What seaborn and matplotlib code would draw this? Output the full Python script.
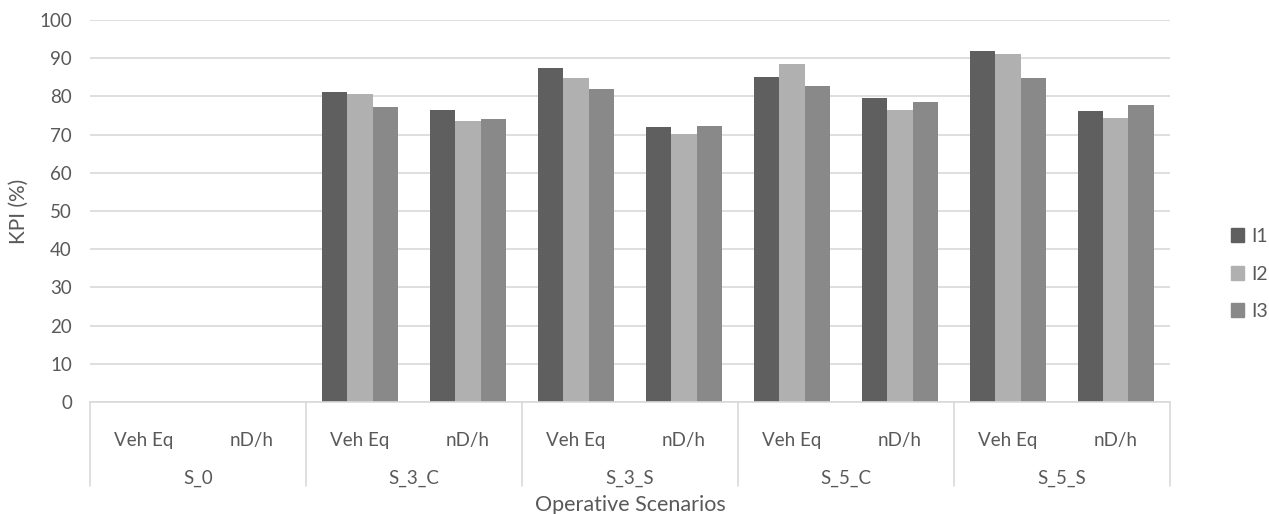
import pandas as pd
import numpy as np
import matplotlib.pyplot as plt
import seaborn as sns

# ── DATA ─────────────────────────────────────
scenarios = ['S_0', 'S_3_C', 'S_3_S', 'S_5_C', 'S_5_S']
metrics = ['Veh Eq', 'nD/h']
indicators = ['I1', 'I2', 'I3']

# values per (scenario, metric) slot, S_0 has no bars
i1 = [np.nan, np.nan, 81.2, 76.4, 87.5, 71.9, 85.0, 79.7, 91.9, 76.2]
i2 = [np.nan, np.nan, 80.6, 73.6, 84.9, 70.2, 88.4, 76.5, 91.1, 74.4]
i3 = [np.nan, np.nan, 77.3, 74.0, 81.9, 72.3, 82.7, 78.6, 84.9, 77.8]

colors = ['#5f5f5f', '#b0b0b0', '#898989']
text_col = '#595959'
grid_col = '#d9d9d9'

# ── BUILD LONG TABLE ─────────────────────────
slots = [f'{s}|{m}' for s in scenarios for m in metrics]
rows = []
for name, vals in zip(indicators, [i1, i2, i3]):
    for slot, v in zip(slots, vals):
        rows.append({'slot': slot, 'indicator': name, 'kpi': v})
df = pd.DataFrame(rows)

# ── PLOT ─────────────────────────────────────
sns.set_style('white')
plt.rcParams['font.family'] = ['Lato', 'DejaVu Sans']

fig = plt.figure(figsize=(12.69, 5.14), dpi=100)
ax = fig.add_axes([0.0709, 0.218, 0.851, 0.743])

sns.barplot(data=df, x='slot', y='kpi', hue='indicator', order=slots,
            hue_order=indicators, palette=colors, width=0.7,
            saturation=1, ax=ax, legend=False, edgecolor='none')

ax.set_ylim(0, 100)
ax.set_xlim(-0.5, len(slots) - 0.5)
ax.set_yticks(range(0, 101, 10))
ax.yaxis.grid(True, color=grid_col, linewidth=1.2)
ax.set_axisbelow(True)
for side in ['left', 'right', 'top']:
    ax.spines[side].set_visible(False)
ax.spines['bottom'].set_color(grid_col)
ax.spines['bottom'].set_linewidth(1.2)
ax.tick_params(axis='y', length=0, labelsize=13.5, labelcolor=text_col, pad=13)
ax.set_xticks([])
ax.set_xlabel('')
ax.set_ylabel('KPI (%)', fontsize=15, color=text_col)
ax.yaxis.set_label_coords(-0.057, 0.5)

# multi-level category axis
trans = ax.get_xaxis_transform()
for k, slot in enumerate(slots):
    ax.text(k, -0.10, slot.split('|')[1], transform=trans, ha='center',
            va='center', fontsize=13.5, color=text_col)
for g, s in enumerate(scenarios):
    ax.text(2 * g + 0.5, -0.20, s, transform=trans, ha='center',
            va='center', fontsize=13.5, color=text_col)
for b in range(len(scenarios) + 1):
    ax.plot([2 * b - 0.5, 2 * b - 0.5], [0, -0.22], transform=trans,
            color=grid_col, linewidth=1.2, clip_on=False)
ax.text(4.5, -0.27, 'Operative Scenarios', transform=trans, ha='center',
        va='center', fontsize=15.5, color=text_col)

# legend
handles = [plt.Rectangle((0, 0), 1, 1, color=c) for c in colors]
leg = ax.legend(handles, indicators, loc='center left',
                bbox_to_anchor=(1.04, 0.335), frameon=False, fontsize=14,
                handlelength=0.7, handleheight=0.7, handletextpad=0.35,
                labelspacing=1.05)
for t in leg.get_texts():
    t.set_color(text_col)

plt.savefig('out.png', dpi=100)
